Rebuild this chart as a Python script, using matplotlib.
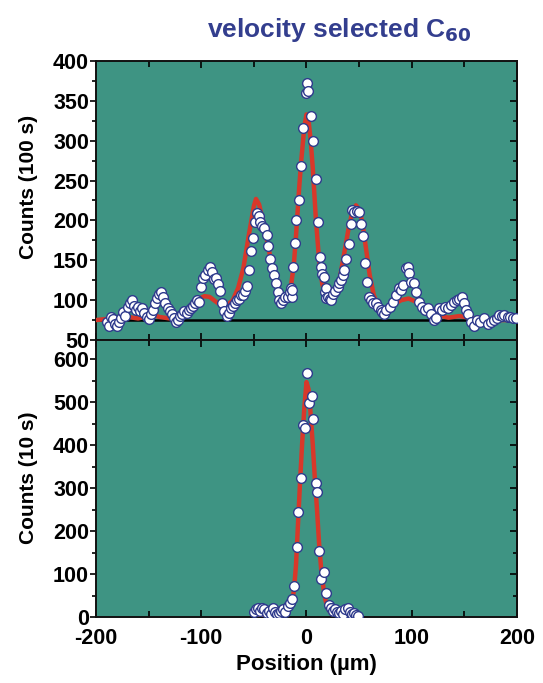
import matplotlib
matplotlib.use("Agg")
import matplotlib.pyplot as plt
from matplotlib.ticker import MultipleLocator

# ---------------- data ----------------
top_x = [-190, -188, -186, -184, -182, -180, -178, -176, -174, -172, -170, -168, -166, -164, -162, -160,
         -158, -156, -154, -152, -150, -148, -146, -144, -142, -140, -138, -136, -134, -132, -130, -128,
         -126, -124, -122, -120, -118, -116, -114, -112, -110, -108, -106, -104, -102, -100, -98, -96,
         -94, -92, -90, -88, -86, -84, -82, -80, -78, -76, -74, -72, -70, -68, -66, -64, -62, -60, -58,
         -57, -55, -53, -51, -49, -47, -45, -44, -42, -40, -38, -37, -35, -33, -31, -29, -27, -26, -24,
         -22, -20, -18, -16, -14.5, -14, -13.5, -12.5, -11, -9.5, -7.5, -5.5, -3, 0, 0.5, 1.5, 4.5, 6.5,
         9, 11, 12.5, 13.5, 15, 17, 18, 18.5, 19, 20, 22, 23.5, 25, 27, 29.5, 31, 33, 34.5, 36, 37.5, 40,
         42, 43.5, 45.5, 48, 50, 52, 54, 56, 57.5, 59.5, 61, 63, 66, 68, 70.5, 72, 74, 76, 79, 82, 85,
         88, 90, 92, 94.5, 96, 97.5, 99, 102, 104, 107, 110, 113, 115, 118, 121, 123, 126, 129, 132, 134,
         137, 140, 143, 145, 148, 150, 151.5, 153, 156, 159, 162, 165, 169, 172, 175, 178, 181, 183, 186,
         188, 191, 193, 196, 199]
top_y = [72, 68, 79, 76, 70, 68, 73, 78, 85, 80, 92, 96, 100, 93, 88, 92,
         86, 90, 84, 79, 76, 82, 88, 96, 103, 108, 110, 104, 97, 90, 86, 82,
         78, 72, 75, 80, 83, 86, 84, 88, 90, 93, 96, 100, 98, 117, 128, 132,
         138, 141, 135, 126, 128, 120, 112, 96, 86, 80, 84, 90, 93, 97, 100, 102, 106, 106, 112,
         118, 138, 162, 178, 198, 209, 205, 198, 193, 190, 182, 168, 152, 140, 131, 122, 110, 100, 96,
         100, 104, 104, 110, 115, 104, 113, 142, 172, 200, 226, 268, 316, 360, 373, 362, 331, 300,
         252, 198, 154, 141, 133, 129, 110, 115, 103, 104, 102, 100, 108, 111, 117, 122, 125, 131, 138, 152, 171,
         196, 213, 210, 212, 211, 196, 180, 146, 123, 104, 100, 97, 96, 92, 88, 85, 83, 88, 92, 98, 106,
         115, 113, 119, 140, 142, 134, 123, 121, 110, 98, 92, 88, 90, 83, 75, 78, 90, 88, 92, 90,
         94, 98, 100, 102, 104, 96, 88, 82, 73, 67, 75, 72, 77, 70, 72, 75, 78, 81, 80,
         81, 79, 79, 78, 77]

top_fit_x = [-200, -185, -175, -165, -160, -150, -145, -140, -130, -120, -110, -105, -100, -97, -92, -85,
             -80, -75, -70, -65, -60, -55, -50, -48, -45, -40, -35, -30, -25, -22, -18, -15, -12, -10,
             -7, -5, -2, 0, 2, 4, 6, 9, 12, 15, 18, 22, 25, 28, 32, 36, 40, 44, 47, 50, 53, 56, 60, 64,
             68, 72, 76, 82, 90, 97, 104, 110, 118, 125, 135, 145, 150, 160, 175, 200]
top_fit_y = [75, 77, 80, 78, 77, 80, 81, 79, 77, 79, 86, 95, 103, 105, 104, 97,
             93, 94, 100, 115, 140, 180, 218, 227, 220, 192, 158, 128, 108, 102, 104, 115, 145, 180,
             240, 275, 318, 333, 325, 300, 265, 200, 150, 120, 106, 100, 102, 110, 130, 160, 190, 213, 219, 214, 198, 170, 132, 106,
             93, 88, 88, 94, 100, 102, 98, 93, 86, 81, 78, 80, 79, 77, 75, 75]

baseline_top = 75

bot_x = [-50, -48, -46, -44, -42, -40, -38, -36, -34, -32, -30, -28, -26, -24, -22, -20.4, -18, -16,
         -14, -11.6, -9.3, -7.8, -5.5, -3, -1.1, 0.8, 2.4, 4.9, 6.5, 8.7, 10.3, 12.1, 14.1, 16.6, 18.2,
         21.4, 23, 25, 27, 29, 31, 33, 35, 37, 39, 41, 43, 45, 47, 49]
bot_y = [12, 18, 20, 14, 22, 18, 10, 15, 8, 20, 12, 6, 10, 14, 18, 12, 25, 32,
         43, 72, 162, 245, 324, 447, 441, 569, 498, 514, 462, 312, 291, 154, 88, 105, 55,
         28, 20, 15, 18, 12, 10, 14, 8, 18, 20, 12, 8, 10, 4, 2]

bot_fit_x = [-50, -30, -22, -18, -15, -12, -10, -8, -6, -4, -2, 0, 2, 4, 6, 8, 10, 12, 14, 16, 18,
             20, 23, 27, 35, 50]
bot_fit_y = [0, 0, 2, 10, 25, 60, 120, 220, 320, 410, 490, 547, 530, 470, 400, 320, 250, 170, 110,
             70, 40, 22, 10, 3, 0, 0]

x_ticks = [-200, -100, 0, 100, 200]
top_yticks = [50, 100, 150, 200, 250, 300, 350, 400]
bot_yticks = [0, 100, 200, 300, 400, 500, 600]

# ---------------- style ----------------
BG = "#3e9483"
RED = "#d8382a"
EDGE = "#2e3a8c"
TITLE_C = "#333e8e"

plt.rcParams['font.family'] = ['Liberation Sans', 'DejaVu Sans']
plt.rcParams['font.weight'] = 'bold'
plt.rcParams['axes.unicode_minus'] = False

fig = plt.figure(figsize=(5.43, 6.83), dpi=100)
ax1 = fig.add_axes([0.1768, 0.5022, 0.7753, 0.4085])
ax2 = fig.add_axes([0.1768, 0.0966, 0.7753, 0.4056], sharex=ax1)

mk = dict(marker='o', ms=7.0, mfc='white', mec=EDGE, mew=1.0, ls='none', zorder=4)

for ax in (ax1, ax2):
    ax.set_facecolor(BG)
    for s in ax.spines.values():
        s.set_linewidth(1.4)
        s.set_color('#111111')

ax1.plot(top_fit_x, top_fit_y, color=RED, lw=3.2, zorder=3, solid_capstyle='round')
ax1.axhline(baseline_top, color='black', lw=1.8, zorder=2)
ax1.plot(top_x, top_y, **mk)
ax1.set_ylim(50, 400)
ax1.set_xlim(-200, 200)
ax1.set_yticks(top_yticks)
ax1.yaxis.set_minor_locator(MultipleLocator(25))

ax2.plot(bot_fit_x, bot_fit_y, color=RED, lw=3.2, zorder=3, solid_capstyle='round')
ax2.plot(bot_x, bot_y, **mk)
ax2.set_ylim(0, 645)
ax2.set_yticks(bot_yticks)
ax2.yaxis.set_minor_locator(MultipleLocator(50))
ax2.set_xticks(x_ticks)
ax2.xaxis.set_minor_locator(MultipleLocator(50))

for ax in (ax1, ax2):
    ax.tick_params(axis='x', which='both', direction='in', top=True, bottom=True, width=1.2)
    ax.tick_params(axis='x', which='major', length=5)
    ax.tick_params(axis='x', which='minor', length=4)
    ax.tick_params(axis='y', which='both', direction='out', left=True, right=False, width=1.2)
    ax.tick_params(axis='y', which='major', length=4, labelsize=15.5, pad=1)
    ax.tick_params(axis='y', which='minor', length=3)
    axr = ax.secondary_yaxis('right')
    axr.tick_params(axis='y', which='both', direction='in', width=1.2, labelright=False)
    axr.tick_params(axis='y', which='major', length=5)
    axr.tick_params(axis='y', which='minor', length=3)
    axr.set_yticks(ax.get_yticks())
    axr.yaxis.set_minor_locator(ax.yaxis.get_minor_locator())
    axr.spines['right'].set_linewidth(1.4)
    for lbl in ax.get_yticklabels():
        lbl.set_fontweight('bold')

ax1.tick_params(axis='x', labelbottom=False)
ax2.tick_params(axis='x', labelsize=15.5, pad=8)
for lbl in ax2.get_xticklabels():
    lbl.set_fontweight('bold')

fig.text(0.052, 0.726, "Counts (100 s)", rotation=90, ha='center', va='center',
         fontsize=15, fontweight='bold')
fig.text(0.052, 0.300, "Counts (10 s)", rotation=90, ha='center', va='center',
         fontsize=15, fontweight='bold')
fig.text(0.565, 0.027, "Position (µm)", ha='center', va='center',
         fontsize=16, fontweight='bold')

fig.text(0.625, 0.956, r"velocity selected C$_{\mathbf{60}}$", ha='center', va='center',
         fontsize=19, fontweight='bold', color=TITLE_C)

fig.savefig("out.png", dpi=100)
